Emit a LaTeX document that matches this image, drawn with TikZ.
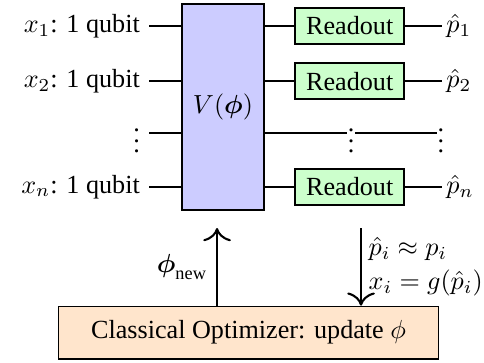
\documentclass[tikz,border=0pt]{standalone}
\usepackage{amsmath}
\usepackage[no-math]{fontspec}
\setmainfont{Liberation Serif}
\usetikzlibrary{arrows.meta}
\begin{document}
\begin{tikzpicture}[
	gatebox/.style={draw, thick, fill=blue!20, minimum width=1.1cm, minimum height=2.77cm},
	readout/.style={draw, thick, fill=green!20, minimum width=1.46cm},
	optbox/.style={draw, fill=orange!20, minimum width=5.1cm, minimum height=0.71cm},
	wire/.style={thick},
	dots/.style={inner sep=0},
	feedback/.style={-{To[scale=1.5]}, thick}]
	
		\useasboundingbox (0,0) rectangle (6.505,-4.866);
	
		% unitary
		\node[gatebox] (V) at (2.997,-1.438) {$V(\boldsymbol{\phi})$};
		
		% inputs
		\node[anchor=east] (x1) at (2.003,-0.35) {$x_1$: 1 qubit};
		\node[anchor=east] (x2) at (2.003,-1.09) {$x_2$: 1 qubit};
		\node[anchor=east] (xd) at (2.003,-1.79) {$\vdots$};
		\node[anchor=east] (xn) at (2.003,-2.51) {$x_n$: 1 qubit};
		\draw[wire] (x1.east) -- (x1.east -| V.west);
		\draw[wire] (x2.east) -- (x2.east -| V.west);
		\draw[wire] (xd.east) -- (xd.east -| V.west);
		\draw[wire] (xn.east) -- (xn.east -| V.west);
		
		% readouts
		\node[readout] (r1) at (4.70,-0.35) {Readout};
		\node[readout] (r2) at (4.70,-1.09) {Readout};
		\node[dots] (rd) at (4.718,-1.79) {$\vdots$};
		\node[readout] (rn) at (4.70,-2.51) {Readout};
		
		% outputs
		\node[anchor=west, inner sep=1.5pt] (p1) at (5.94,-0.35) {$\hat{p}_1$};
		\node[anchor=west, inner sep=1.5pt] (p2) at (5.94,-1.09) {$\hat{p}_2$};
		\node[dots] (pd) at (5.927,-1.79) {$\vdots$};
		\node[anchor=west, inner sep=1.5pt] (pn) at (5.94,-2.51) {$\hat{p}_n$};
		
		\draw[wire] (r1 -| V.east) -- (r1) -- (p1);
		\draw[wire] (r2 -| V.east) -- (r2) -- (p2);
		\draw[wire] (rd -| V.east) -- (rd) -- (pd);
		\draw[wire] (rn -| V.east) -- (rn) -- (pn);
		
		% classical loop
		\node[optbox] (opt) at (3.34,-4.47) {Classical Optimizer: update $\phi$};
		\coordinate (up) at (2.917,-3.065);
		\coordinate (dn) at (4.852,-3.065);
		\draw[feedback] (opt.north -| up) -- (up)
			node[midway, left] {$\boldsymbol{\phi}_{\text{new}}$};
		\draw[feedback] (dn) -- (dn |- opt.north)
			node[midway, right, align=left, inner xsep=2.5pt] {$\hat{p}_i \approx p_i$\\[1pt] $x_i = g(\hat{p}_i)$};
	
	\end{tikzpicture}
\end{document}
